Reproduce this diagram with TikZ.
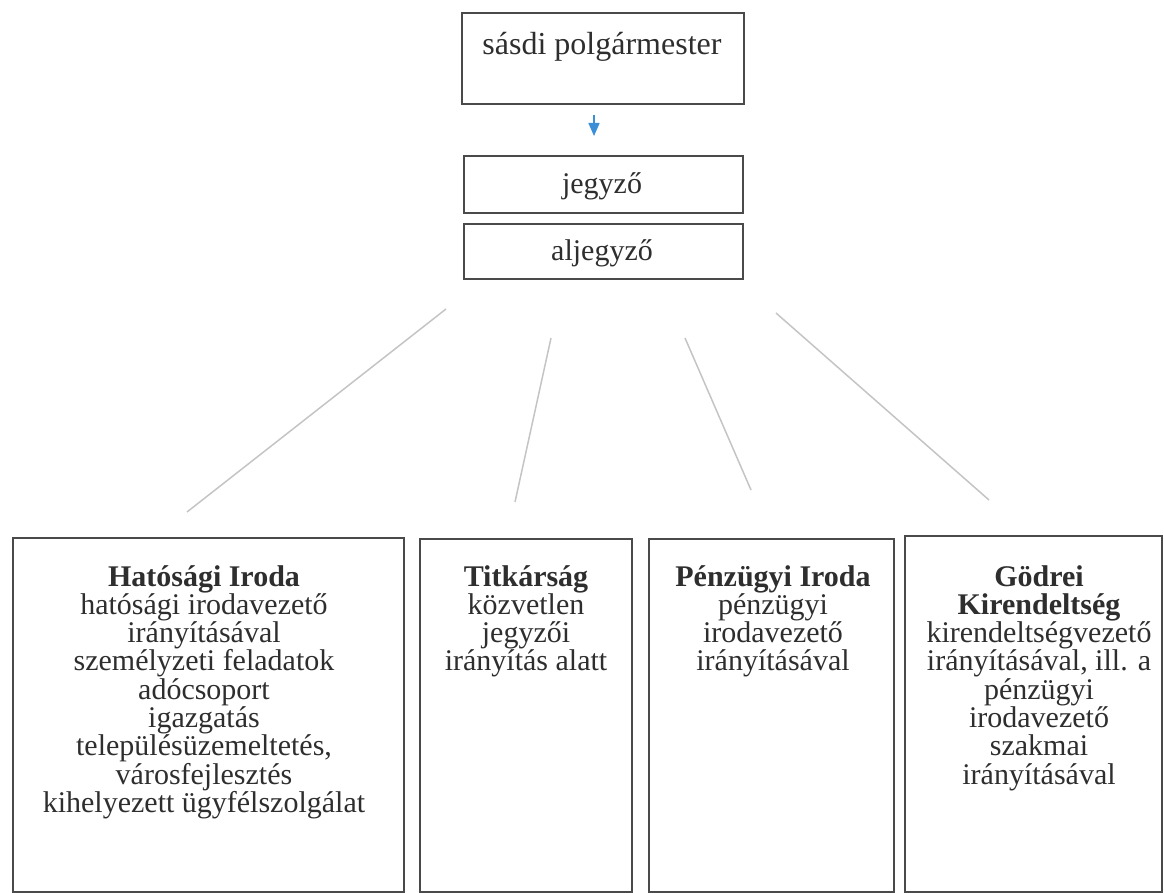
\documentclass[tikz,border=0pt]{standalone}
\usepackage{fontspec}
\setmainfont{Liberation Serif}
\usetikzlibrary{arrows.meta}
\definecolor{ink}{HTML}{2E2E2E}
\definecolor{frame}{HTML}{4A4A4A}
\definecolor{connc}{HTML}{C4C4C4}
\definecolor{arrowblue}{HTML}{3A8FD6}
\begin{document}
\begin{tikzpicture}[x=1pt,y=-1pt,
 boxst/.style={draw=frame, line width=1.6pt, anchor=north west, inner sep=0pt},
 txt/.style={text=ink, font=\fontsize{30}{28.3}\selectfont, align=center, anchor=base, inner sep=0pt},
 connst/.style={draw=connc, line width=1.5pt}]
\useasboundingbox (0,0) rectangle (1164,893);
% top boxes
\node[boxst, minimum width=282, minimum height=91] (mayor) at (461,12) {};
\node[txt, font=\fontsize{32}{34}\selectfont] (mayort) at (602,55) {sásdi polgármester};
\node[boxst, minimum width=279, minimum height=57] (jegyzo) at (463,155) {};
\node[txt] (jegyzot) at (602,194) {jegyző};
\node[boxst, minimum width=279, minimum height=55] (aljegyzo) at (463,223) {};
\node[txt] (aljegyzot) at (602,261) {aljegyző};
% arrow
\coordinate (arrA) at (594,115);
\coordinate (arrB) at (594,136);
\draw[arrowblue, line width=1.5pt, -{Triangle[width=11pt,length=13pt]}] (arrA) -- (arrB);
% bottom boxes
\node[boxst, minimum width=391, minimum height=354] (b1) at (12,537) {};
\node[boxst, minimum width=212, minimum height=353] (b2) at (419,538) {};
\node[boxst, minimum width=245, minimum height=353] (b3) at (648,538) {};
\node[boxst, minimum width=257, minimum height=356] (b4) at (904,535) {};
% anchor=base is the baseline of the last line
\node[txt] (b1t) at (204,812.4) {\textbf{Hatósági Iroda}\\hatósági irodavezető\\irányításával\\személyzeti feladatok\\adócsoport\\igazgatás\\településüzemeltetés,\\városfejlesztés\\kihelyezett ügyfélszolgálat};
\node[txt] (b2t) at (526,670.9) {\textbf{Titkárság}\\közvetlen\\jegyzői\\irányítás alatt};
\node[txt] (b3t) at (773,670.9) {\textbf{Pénzügyi Iroda}\\pénzügyi\\irodavezető\\irányításával};
\node[txt] (b4t) at (1039,784.1) {\textbf{Gödrei}\\\textbf{Kirendeltség}\\kirendeltségvezető\\irányításával, ill. a\\pénzügyi\\irodavezető\\szakmai\\irányításával};
% connector lines
\coordinate (l1a) at (446,309); \coordinate (l1b) at (187,512);
\coordinate (l2a) at (551,338); \coordinate (l2b) at (515,502);
\coordinate (l3a) at (685,338); \coordinate (l3b) at (751,490);
\coordinate (l4a) at (776,313); \coordinate (l4b) at (989,500);
\draw[connst] (l1a) -- (l1b);
\draw[connst] (l2a) -- (l2b);
\draw[connst] (l3a) -- (l3b);
\draw[connst] (l4a) -- (l4b);
\end{tikzpicture}
\end{document}
